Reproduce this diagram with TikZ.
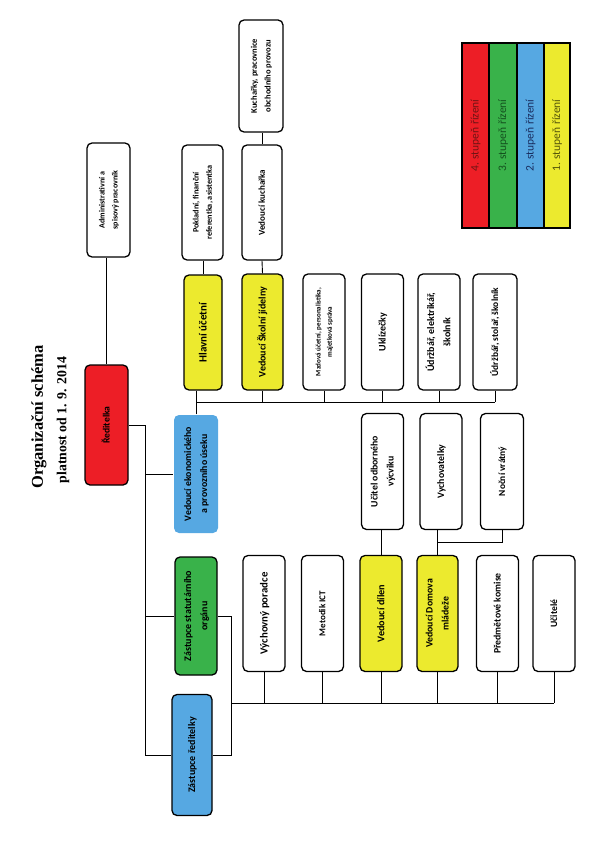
\documentclass[tikz,border=0pt]{standalone}
\usepackage{fontspec}
\setmainfont{Carlito}
\newfontfamily\titlefont{Liberation Serif}
\usepackage{graphicx}

\definecolor{redlvl}{RGB}{237,30,38}
\definecolor{greenlvl}{RGB}{57,178,74}
\definecolor{bluelvl}{RGB}{86,168,226}
\definecolor{yellowlvl}{RGB}{236,234,46}
\definecolor{redtxt}{RGB}{110,20,20}
\definecolor{greentxt}{RGB}{20,80,30}
\definecolor{bluetxt}{RGB}{25,45,95}
\definecolor{yellowtxt}{RGB}{85,85,10}

\newcommand{\vtext}[1]{\rotatebox{90}{\begin{tabular}{@{}c@{}}#1\end{tabular}}}
\renewcommand{\arraystretch}{1.35}
\newcommand{\fs}[1]{\fontsize{#1}{1.2\dimexpr#1pt\relax}\selectfont\bfseries}

\begin{document}
\begin{tikzpicture}[
        x=1pt, y=-1pt,
        box/.style={draw=black, line width=1.3pt, rounded corners=5pt, fill=white,
            minimum width=42pt, minimum height=116pt, inner sep=0pt, font=\fs{9.8}},
        yellowbox/.style={box, fill=yellowlvl},
        legend/.style={draw=black, line width=1.2pt, minimum height=185pt,
            inner sep=0pt, font=\fontsize{11.5}{13}\selectfont},
        link/.style={draw=black, line width=0.9pt}
    ]

        \useasboundingbox (0,0) rectangle (595,842);

        % title
        \node[rotate=90, font=\titlefont\fontsize{16.5}{19}\selectfont\bfseries] (title) at (39,417) {Organizační schéma};
        \node[rotate=90, font=\titlefont\fontsize{13.8}{16}\selectfont\bfseries] (subtitle) at (63,420) {platnost od 1. 9. 2014};

        % legend
        \node[legend, fill=redlvl, minimum width=27pt, text=redtxt] (lvl4) at (475.5,135.5) {\rotatebox{90}{4. stupeň řízení}};
        \node[legend, fill=greenlvl, minimum width=28pt, text=greentxt] (lvl3) at (503,135.5) {\rotatebox{90}{3. stupeň řízení}};
        \node[legend, fill=bluelvl, minimum width=27pt, text=bluetxt] (lvl2) at (530.5,135.5) {\rotatebox{90}{2. stupeň řízení}};
        \node[legend, fill=yellowlvl, minimum width=26pt, text=yellowtxt] (lvl1) at (557,135.5) {\rotatebox{90}{1. stupeň řízení}};

        % vedeni
        \node[box, fill=redlvl, minimum width=43pt, minimum height=120pt, font=\fs{9.6}] (reditelka) at (106.5,425) {\vtext{Ředitelka}};
        \node[box, minimum width=43pt, minimum height=114pt, font=\fs{8}] (admin) at (108.5,200) {\vtext{Administrativní a\\spisový pracovník}};
        \node[box, draw=none, fill=bluelvl, minimum width=44pt, minimum height=118pt] (ve) at (196,474) {\vtext{Vedoucí ekonomického\\a provozního úseku}};
        \node[box, fill=greenlvl, minimum height=118pt, font=\fs{10}] (zs) at (196,616) {\vtext{Zástupce statutárního\\orgánu}};
        \node[box, fill=bluelvl, minimum width=40pt, minimum height=121pt, font=\fs{10}] (zr) at (192,755) {\vtext{Zástupce ředitelky}};

        % ekonomicky a provozni usek
        \node[yellowbox, minimum width=38pt, minimum height=115pt, font=\fs{11}] (hlavni) at (203,332.5) {\vtext{Hlavní účetní}};
        \node[box, minimum width=41pt, minimum height=115pt, font=\fs{8.2}] (pokladni) at (202.5,202.5) {\vtext{Pokladní, finanční\\referentka, asistentka}};
        \node[yellowbox, minimum width=41pt, font=\fs{10}] (jidelna) at (262.5,332) {\vtext{Vedoucí Školní jídelny}};
        \node[box, minimum width=40pt, minimum height=115pt, font=\fs{9}] (kucharka) at (262,202.5) {\vtext{Vedoucí kuchařka}};
        \node[box, minimum width=44pt, minimum height=112pt, font=\fs{8.5}] (kucharky) at (261,76) {\vtext{Kuchařky, pracovnice\\obchodního provozu}};
        \node[box, font=\fs{7}] (mzdy) at (324,332) {\vtext{Mzdová účetní, personalistika,\\majetková správa}};
        \node[box, font=\fs{10}] (uklid) at (382.5,332) {\vtext{Uklízečky}};
        \node[box, font=\fs{10}] (elektrikar) at (439,332) {\vtext{Údržbář, elektrikář,\\školník}};
        \node[box, minimum width=44pt, font=\fs{9.4}] (stolar) at (495,332) {\vtext{Údržbář, stolař, školník}};

        % pedagogicky usek
        \node[box] (uov) at (382.5,471.5) {\vtext{Učitel odborného\\výcviku}};
        \node[box] (vychov) at (441,471.5) {\vtext{Vychovatelky}};
        \node[box, minimum width=43pt, font=\fs{9.4}] (vratny) at (502,471.5) {\vtext{Noční vrátný}};
        \node[box, font=\fs{10.8}] (vp) at (264,613.5) {\vtext{Výchovný poradce}};
        \node[box, font=\fs{9}] (ict) at (322.5,613.5) {\vtext{Metodik ICT}};
        \node[yellowbox, font=\fs{10.2}] (dilen) at (381,613.5) {\vtext{Vedoucí dílen}};
        \node[yellowbox, minimum width=41pt] (dm) at (437.5,613.5) {\vtext{Vedoucí Domova\\mládeže}};
        \node[box] (pk) at (497.5,613.5) {\vtext{Předmětové komise}};
        \node[box, font=\fs{9.6}] (ucitele) at (554,613.5) {\vtext{Učitelé}};

        % spojnice
        \coordinate (trunk) at (145,425);
        \coordinate (vebus) at (196,402);
        \coordinate (zsbus) at (231,703);

        \begin{scope}[on background layer/.try]
        \draw[link] (reditelka.north) -- (reditelka.north |- admin.south);
        \draw[link] (reditelka.east) -- (trunk) -- (trunk |- zr.west) -- (zr.west);
        \draw[link] (trunk |- ve.west) -- (ve.west);
        \draw[link] (trunk |- zs.west) -- (zs.west);

        \draw[link] (ve.north) -- (vebus) -- (stolar.south |- vebus);
        \draw[link] (hlavni.south -| vebus) -- (vebus);
        \foreach \n in {jidelna, mzdy, uklid, elektrikar, stolar}
            \draw[link] (\n.south) -- (\n.south |- vebus);
        \draw[link] (hlavni.north) -- (hlavni.north |- pokladni.south);
        \draw[link] (jidelna.north) -- (kucharka.south);
        \draw[link] (kucharka.north) -- (kucharka.north |- kucharky.south);

        \draw[link] (zs.east) -- (zs.east -| zsbus) -- (zsbus |- zr.east) -- (zr.east);
        \draw[link] (zsbus) -- (ucitele.south |- zsbus);
        \foreach \n in {vp, ict, dilen, dm, pk, ucitele}
            \draw[link] (\n.south) -- (\n.south |- zsbus);
        \draw[link] (dilen.north) -- (dilen.north |- uov.south);
        \draw[link] (dm.north) -- (dm.north |- vychov.south);
        \path (dm.north) ++(0,-12) coordinate (dmfork);
        \draw[link] (dmfork) -| (vratny.south);
        \end{scope}

    \end{tikzpicture}
\end{document}
